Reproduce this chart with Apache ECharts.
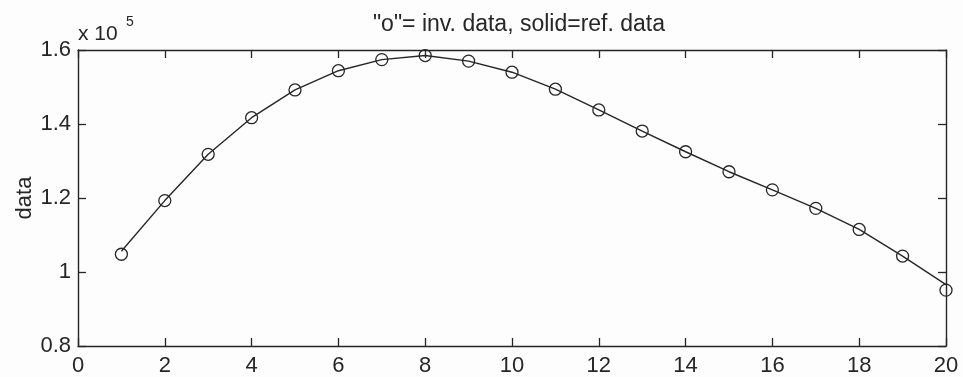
<!DOCTYPE html>
<html>
<head>
<meta charset="utf-8">
<script src="https://cdn.jsdelivr.net/npm/echarts@6/dist/echarts.min.js"></script>
<style>
html,body{margin:0;padding:0;background:#fdfdfd;}
#chart{width:963px;height:377px;}
</style>
</head>
<body>
<div id="chart"></div>
<script>
const xValues = [1,2,3,4,5,6,7,8,9,10,11,12,13,14,15,16,17,18,19,20];
const invData = [104800,119300,131800,141700,149200,154400,157400,158500,157000,154000,149400,143800,138100,132500,127100,122200,117200,111500,104300,95100];
const refData = [105600,119300,131800,141700,149200,154400,157400,158500,157000,154000,149400,143800,138100,132500,127100,122200,117200,111500,104300,96600];
const yTicks = [80000,100000,120000,140000,160000];
const titleText = '"o"= inv. data, solid=ref. data';
const yName = 'data';

const font = 'Liberation Sans, Arial, Helvetica, sans-serif';
const ink = '#262626';
const chart = echarts.init(document.getElementById('chart'));
const toPairs = (ys) => xValues.map((x, i) => [x, ys[i]]);
const tickStyle = {show: true, inside: true, length: 8, lineStyle: {color: ink, width: 1.3}};
const lineStyle = {show: true, onZero: false, lineStyle: {color: ink, width: 1.4}};

chart.setOption({
  backgroundColor: '#fdfdfd',
  animation: false,
  title: {
    text: titleText,
    left: 514, top: 8, textAlign: 'center',
    textStyle: {fontFamily: font, fontSize: 23, fontWeight: 'normal', color: ink}
  },
  graphic: [
    {type: 'text', left: 78, top: 24, style: {text: 'x 10', font: '21px ' + font, fill: ink}},
    {type: 'text', left: 126, top: 15, style: {text: '5', font: '14px ' + font, fill: ink}}
  ],
  grid: {left: 78, right: 17, top: 50, bottom: 31, show: false},
  xAxis: [
    {type: 'value', min: 0, max: 20, interval: 2, position: 'bottom',
     axisLine: lineStyle, axisTick: tickStyle, splitLine: {show: false},
     axisLabel: {fontFamily: font, fontSize: 22, color: ink, margin: 9}},
    {type: 'value', min: 0, max: 20, interval: 2, position: 'top',
     axisLine: lineStyle, axisTick: tickStyle, splitLine: {show: false},
     axisLabel: {show: false}}
  ],
  yAxis: [
    {type: 'value', min: yTicks[0], max: yTicks[yTicks.length - 1], interval: 20000, position: 'left',
     axisLine: lineStyle, axisTick: tickStyle, splitLine: {show: false},
     axisLabel: {fontFamily: font, fontSize: 22, color: ink, margin: 7,
       formatter: (v) => String(+(v / 100000).toFixed(1))},
     name: yName, nameLocation: 'middle', nameGap: 42, nameRotate: 90, nameMoveOverlap: false,
     nameTextStyle: {fontFamily: font, fontSize: 22, color: ink}},
    {type: 'value', min: yTicks[0], max: yTicks[yTicks.length - 1], interval: 20000, position: 'right',
     axisLine: lineStyle, axisTick: tickStyle, splitLine: {show: false},
     axisLabel: {show: false}}
  ],
  series: [
    {type: 'line', data: toPairs(refData), showSymbol: false, symbol: 'none',
     lineStyle: {color: ink, width: 1.4}, z: 2},
    {type: 'scatter', data: toPairs(invData), symbol: 'circle', symbolSize: 12,
     itemStyle: {color: 'rgba(0,0,0,0)', borderColor: ink, borderWidth: 1.3, opacity: 1}, z: 3}
  ]
});
</script>
</body>
</html>
